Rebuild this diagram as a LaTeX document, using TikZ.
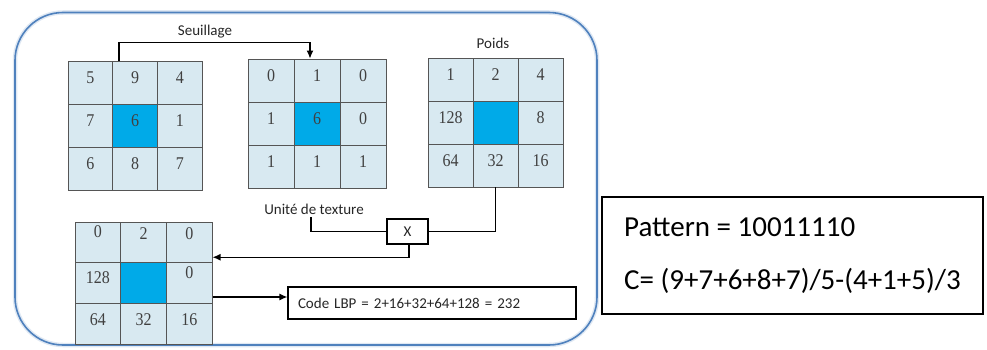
\documentclass[tikz,border=0pt]{standalone}
\usepackage{fontspec}
\setmainfont{Liberation Serif}
\newfontfamily\labelfont{Carlito}
\usetikzlibrary{arrows.meta}

\definecolor{cellblue}{HTML}{D8E9F1}
\definecolor{centreblue}{HTML}{00AAE8}
\definecolor{gridline}{HTML}{555555}
\definecolor{frameblue}{HTML}{4F81BD}

\tikzset{
  cell/.style={draw=gridline, line width=0.9pt, inner sep=0pt, text=black!75,
    font=\fontsize{16}{16}\selectfont},
  tag/.style={font=\labelfont\fontsize{15}{15}\selectfont, inner sep=0pt, text=black!85},
  wire/.style={draw=black, line width=1.2pt},
  arrowwire/.style={wire, -{Latex[length=8pt,width=7pt]}},
  plainbox/.style={draw=black, line width=1.2pt, inner sep=0pt}
}

% 3x3 grid of cells: name, left, top, cell width, cell height,
% items value/lift (lift of the number above the cell centre, in pt)
\newcommand{\lbpgrid}[6]{%
  \foreach \v/\r [count=\i from 0] in {#6} {
    \pgfmathtruncatemacro\col{mod(\i,3)}
    \pgfmathtruncatemacro\row{div(\i,3)}
    \ifnum\i=4 \def\cellcol{centreblue}\else\def\cellcol{cellblue}\fi
    \node[cell, fill=\cellcol, minimum width=#4pt, minimum height=#5pt]
      (#1-\row-\col) at ({#2+(\col+0.5)*#4}, {#3+(\row+0.5)*#5})
      {\raisebox{\r pt}[\height][\depth]{\scalebox{1}[1.12]{\v}}};
  }
}

\begin{document}
\begin{tikzpicture}[x=1pt, y=-1pt]
  \useasboundingbox (0,0) rectangle (987,350);

  % rounded frame around the LBP computation, with a soft halo
  \draw[frameblue!18, line width=4.5pt, rounded corners=48pt] (15,12.5) rectangle (597,345);
  \node[draw=frameblue, line width=1.6pt, rounded corners=48pt,
        minimum width=582pt, minimum height=332.5pt, inner sep=0pt]
    (frame) at (306,178.75) {};

  % neighbourhood, thresholded values, weights, weighted result
  \lbpgrid{g1}{68}{61}{44.7}{43}{5/5,9/5,4/5,7/5,6/5,1/5,6/5,8/5,7/5}
  \lbpgrid{g2}{248}{59}{46}{43}{0/5,1/5,0/5,1/5,6/5,0/5,1/5,1/5,1/5}
  \lbpgrid{g3}{428}{58}{45}{43}{1/5,2/5,4/5,128/5,{}/0,8/5,64/5,32/5,16/5}
  \lbpgrid{g4}{75}{222}{45.7}{40.7}{0/11,2/9,0/9,128/5,{}/0,0/10,64/4,32/4,16/4}

  % labels
  \node[tag] (seuil) at (205,32) {Seuillage};
  \node[tag] (poids) at (493,43) {Poids};
  \node[tag] (unite) at (314,209) {Unité de texture};

  % multiplication box and result box
  \node[plainbox, tag, minimum width=41pt, minimum height=25pt] (mult) at (407.5,231.5) {X};
  \node[plainbox, tag, minimum width=288pt, minimum height=32pt,
        text width=268pt, inner xsep=10pt, align=left] (code) at (432,303)
    {Code LBP = 2+16+32+64+128 = 232};

  % pattern and contrast box
  \node[draw=black, line width=1.2pt, inner sep=0pt, minimum width=381pt, minimum height=117pt,
        align=left, font=\labelfont\fontsize{29}{53}\selectfont] (pattern) at (792.5,255.5)
    {Pattern = 10011110\\C= (9+7+6+8+7)/5-(4+1+5)/3};

  % connectors
  \draw[arrowwire] ([xshift=-16pt]g1-0-1.north) -- ++(0,-18) -| ([xshift=-7pt]g2-0-1.north);
  \draw[wire] (g3-2-1.south) |- (mult.east);
  \draw[wire] ([xshift=-3pt,yshift=-3pt]unite.south) |- (mult.west);
  \draw[arrowwire] ([xshift=1.5pt]mult.south) |- ([yshift=5pt]g4-1-2.north east);
  \draw[arrowwire] ([yshift=6pt]code.west -| g4-1-2.east) -- ([yshift=6pt]code.west);
\end{tikzpicture}
\end{document}
